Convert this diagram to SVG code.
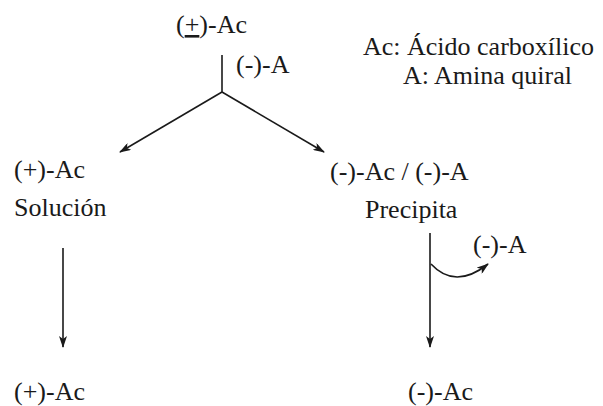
<svg xmlns="http://www.w3.org/2000/svg" width="603" height="406" viewBox="0 0 603 406">
<style>
text{font-family:"Liberation Serif","Times New Roman",serif;font-size:26px;fill:#1a1a1a}
.ln{stroke:#1a1a1a;stroke-width:1.6;fill:none}
</style>
<defs>
<marker id="ah" viewBox="0 0 12 8" refX="11" refY="4" markerWidth="12" markerHeight="8" markerUnits="userSpaceOnUse" orient="auto">
<path d="M0,0 L12,4 L0,8 L3,4 Z" fill="#1a1a1a"/>
</marker>
</defs>
<rect width="603" height="406" fill="#fff"/>
<g id="connectors">
<path class="ln" d="M222,55 V92"/>
<path class="ln" d="M222,92 L120,152" marker-end="url(#ah)"/>
<path class="ln" d="M222,92 L324,152" marker-end="url(#ah)"/>
<path class="ln" d="M63,248 V347" marker-end="url(#ah)"/>
<path class="ln" d="M430,233 V347" marker-end="url(#ah)"/>
<path class="ln" d="M431,264 Q455,290 488,264" marker-end="url(#ah)"/>
</g>
<g id="start"><text x="176" y="33">(<tspan text-decoration="underline">+</tspan>)-Ac</text></g>
<g id="reagent"><text x="236" y="73">(-)-A</text></g>
<g id="legend"><text x="363" y="55">Ac: Ácido carboxílico</text><text x="403" y="84">A: Amina quiral</text></g>
<g id="solution"><text x="14" y="178">(+)-Ac</text><text x="14" y="216">Solución</text></g>
<g id="precipitate"><text x="330" y="180">(-)-Ac / (-)-A</text><text x="365" y="218">Precipita</text></g>
<g id="released"><text x="473" y="253">(-)-A</text></g>
<g id="product-left"><text x="14" y="400">(+)-Ac</text></g>
<g id="product-right"><text x="408" y="400">(-)-Ac</text></g>
</svg>
